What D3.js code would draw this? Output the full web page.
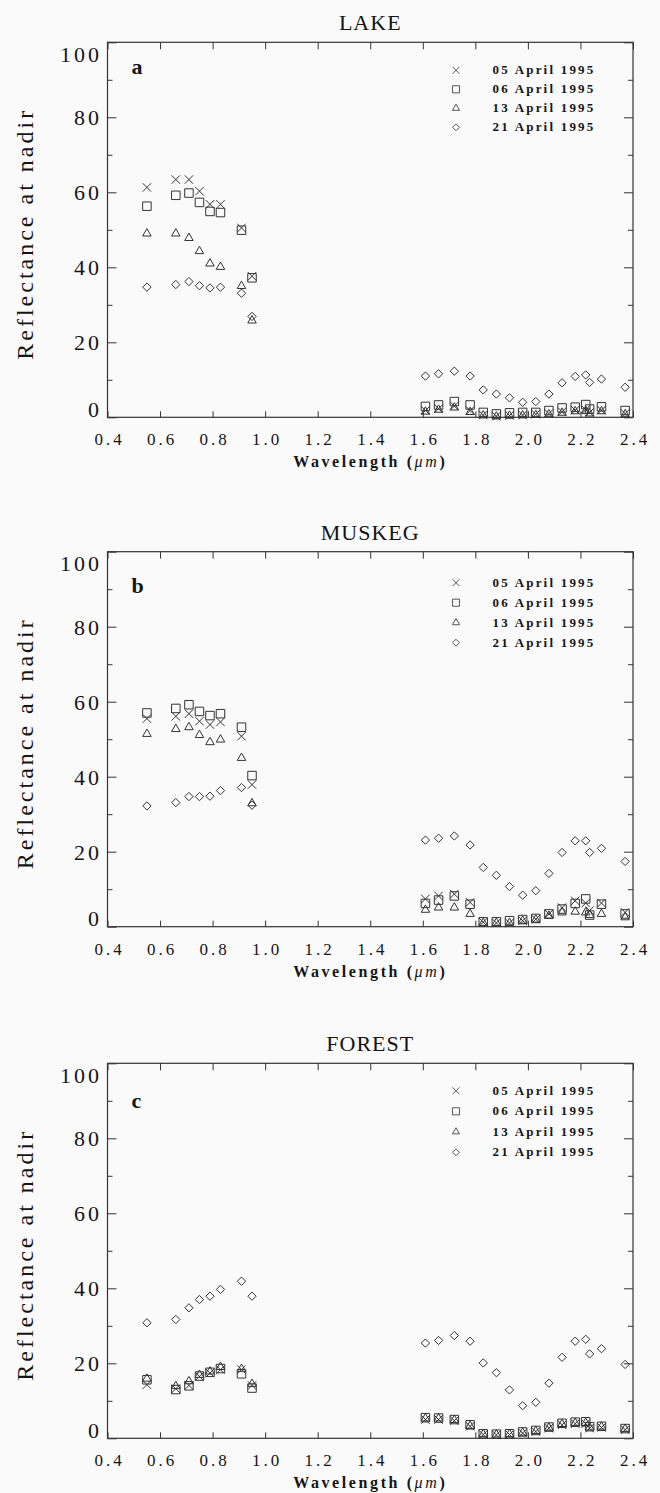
<!DOCTYPE html>
<html>
<head>
<meta charset="utf-8">
<script src="https://cdn.jsdelivr.net/npm/d3@7/dist/d3.min.js"></script>
<style>
  body { margin: 0; background: #fafafa; }
  svg text { font-family: "Liberation Serif", "Times New Roman", serif; fill: #151515; }
  .tick line { stroke: #333; stroke-width: 1; }
</style>
</head>
<body>
<div id="chart"></div>
<script>
// band centres (micrometres)
var wavelengths = [0.55, 0.66, 0.71, 0.75, 0.79, 0.83, 0.91, 0.95,
  1.61, 1.66, 1.72, 1.78, 1.83, 1.88, 1.93, 1.98, 2.03, 2.08, 2.13, 2.18, 2.22, 2.235, 2.28, 2.37];

var dates = ["05 April 1995", "06 April 1995", "13 April 1995", "21 April 1995"];
var panelNames = ["LAKE", "MUSKEG", "FOREST"];
var panelLetters = ["a", "b", "c"];
var xTicks = [0.4, 0.6, 0.8, 1.0, 1.2, 1.4, 1.6, 1.8, 2.0, 2.2, 2.4];
var yTicks = [0, 20, 40, 60, 80, 100];
var yMinor = [10, 30, 50, 70, 90];

// LAKE
var lake05 = [61.3, 63.4, 63.4, 60.3, 56.8, 56.8, 50.5, 37.6, 1.8, 2.3, 3.0, 1.8, 0.6, 0.3, 0.5, 0.6, 0.8, 1.0, 1.5, 1.9, 2.0, 1.3, 1.9, 1.0];
var lake06 = [56.3, 59.2, 59.8, 57.3, 54.9, 54.6, 49.9, 37.2, 2.9, 3.3, 4.2, 3.3, 1.3, 0.9, 1.2, 1.3, 1.3, 1.8, 2.5, 2.7, 3.4, 2.2, 2.8, 1.8];
var lake13 = [49.0, 49.0, 47.8, 44.3, 41.0, 40.1, 35.0, 25.8, 1.5, 2.0, 2.6, 1.4, 0.5, 0.2, 0.4, 0.5, 0.6, 0.8, 1.2, 1.6, 1.7, 1.0, 1.6, 0.8];
var lake21 = [34.7, 35.4, 36.2, 35.1, 34.5, 34.7, 33.1, 26.9, 11.0, 11.6, 12.3, 11.0, 7.3, 6.2, 5.2, 4.0, 4.2, 6.2, 9.2, 10.9, 11.3, 9.3, 10.2, 8.0];

// MUSKEG
var muskeg05 = [55.5, 56.1, 56.8, 54.8, 53.9, 54.6, 50.8, 37.9, 7.4, 8.2, 8.7, 6.5, 1.2, 1.0, 1.0, 1.6, 2.0, 3.4, 5.1, 6.9, 6.3, 4.3, 6.3, 3.8];
var muskeg06 = [57.0, 58.2, 59.2, 57.4, 56.3, 56.8, 53.2, 40.3, 6.2, 7.1, 8.2, 6.0, 1.3, 1.3, 1.6, 1.9, 2.2, 3.4, 4.7, 6.2, 7.4, 3.1, 6.0, 3.4];
var muskeg13 = [51.4, 52.7, 53.2, 51.1, 49.2, 49.9, 45.0, 32.9, 4.5, 5.1, 5.1, 3.4, 1.0, 1.0, 1.0, 1.6, 1.9, 2.9, 3.8, 4.0, 3.8, 3.1, 3.4, 2.5];
var muskeg21 = [32.2, 33.1, 34.7, 34.7, 34.8, 36.3, 37.1, 32.4, 23.1, 23.6, 24.2, 21.8, 15.8, 13.7, 10.7, 8.4, 9.6, 14.2, 19.8, 22.9, 22.9, 19.8, 20.9, 17.4];

// FOREST
var forest05 = [14.3, 13.2, 14.1, 16.5, 17.4, 18.3, 18.3, 14.1, 5.0, 5.0, 4.7, 3.2, 1.0, 0.9, 1.0, 1.4, 1.8, 2.7, 3.6, 3.9, 3.9, 2.7, 2.9, 2.3];
var forest06 = [15.6, 13.0, 14.0, 16.6, 17.6, 18.6, 17.2, 13.4, 5.5, 5.4, 5.0, 3.6, 1.2, 1.1, 1.2, 1.7, 2.1, 3.0, 4.0, 4.3, 4.4, 3.1, 3.2, 2.6];
var forest13 = [15.9, 13.9, 15.2, 16.9, 17.8, 19.0, 18.5, 14.5, 5.3, 5.3, 4.9, 3.3, 1.1, 1.0, 1.1, 1.5, 1.9, 2.8, 3.8, 4.1, 4.1, 2.9, 3.1, 2.5];
var forest21 = [30.8, 31.7, 34.8, 37.0, 37.9, 39.7, 41.9, 37.9, 25.4, 26.1, 27.4, 25.9, 20.1, 17.5, 12.9, 8.7, 9.6, 14.7, 21.6, 25.9, 26.4, 22.5, 23.9, 19.7];

var panelSeries = [
  [lake05, lake06, lake13, lake21],
  [muskeg05, muskeg06, muskeg13, muskeg21],
  [forest05, forest06, forest13, forest21]
];

// layout
var W = 660, H = 1493;
var left = 107.5, right = 633, plotH = 375;
var panelTop = [42.3, 551.7, 1063.3];
var letterDy = [32, 41, 45];
var legendTop = [28, 31, 27.5], legendStep = [19, 20, 20.5];
var ink = "#333";

var symbols = [d3.symbolTimes, d3.symbolSquare2, d3.symbolTriangle2, d3.symbolDiamond2];
var symSize = [48, 92, 52, 44];

var x = d3.scaleLinear().domain([0.4, 2.4]).range([0, right - left]);
var y = d3.scaleLinear().domain([0, 100]).range([plotH, 0]);

var svg = d3.select("#chart").append("svg")
  .attr("width", W)
  .attr("height", H);

panelNames.forEach(function(name, p) {
  var g = svg.append("g")
    .attr("transform", "translate(" + left + "," + panelTop[p] + ")");

  // title
  g.append("text")
    .attr("x", (right - left) / 2)
    .attr("y", -12)
    .attr("text-anchor", "middle")
    .attr("font-size", 22)
    .attr("letter-spacing", 1)
    .text(name);

  // axes, ticks pointing inward
  var gyl = g.append("g").call(d3.axisLeft(y).tickValues(yTicks).tickSize(-9).tickPadding(8.5));
  gyl.selectAll("text")
    .attr("font-size", 22)
    .attr("letter-spacing", 3)
    .attr("dx", 3)
    .attr("dy", function(d) { return d === 0 ? "-0.05em" : d === 100 ? "0.85em" : "0.34em"; });
  g.append("g").call(d3.axisLeft(y).tickValues(yMinor).tickSize(-5).tickFormat(""));
  g.append("g").attr("transform", "translate(" + (right - left) + ",0)")
    .call(d3.axisRight(y).tickValues(yTicks).tickSize(-9).tickFormat(""));
  g.append("g").attr("transform", "translate(" + (right - left) + ",0)")
    .call(d3.axisRight(y).tickValues(yMinor).tickSize(-5).tickFormat(""));

  var gxb = g.append("g").attr("transform", "translate(0," + plotH + ")")
    .call(d3.axisBottom(x).tickValues(xTicks).tickSize(-6).tickFormat(d3.format(".1f")));
  gxb.selectAll("text")
    .attr("font-size", 17)
    .attr("letter-spacing", 3)
    .attr("dx", 1.5)
    .attr("y", 28)
    .attr("dy", 0);
  g.append("g").call(d3.axisTop(x).tickValues(xTicks).tickSize(-7).tickFormat(""));

  g.selectAll(".domain").remove();
  g.selectAll(".tick line").attr("stroke", ink);

  g.append("rect")
    .attr("width", right - left)
    .attr("height", plotH)
    .attr("fill", "none")
    .attr("stroke", ink)
    .attr("stroke-width", 1.2);

  // axis labels
  g.append("text")
    .attr("transform", "translate(" + (33 - left) + "," + (plotH / 2 + 4) + ") rotate(-90)")
    .attr("text-anchor", "middle")
    .attr("font-size", 24)
    .attr("letter-spacing", 3)
    .text("Reflectance at nadir");

  var xl = g.append("text")
    .attr("x", (right - left) / 2)
    .attr("y", plotH + 50)
    .attr("text-anchor", "middle")
    .attr("font-size", 16)
    .attr("font-weight", "bold")
    .attr("letter-spacing", 2.6);
  xl.append("tspan").text("Wavelength (");
  xl.append("tspan").attr("font-style", "italic").attr("font-weight", "normal").text("\u03bcm");
  xl.append("tspan").text(")");

  // panel letter
  g.append("text")
    .attr("x", 24)
    .attr("y", letterDy[p])
    .attr("font-size", 22)
    .attr("font-weight", "bold")
    .text(panelLetters[p]);

  // points
  panelSeries[p].forEach(function(vals, s) {
    var sym = d3.symbol().type(symbols[s]).size(symSize[s]);
    g.append("g")
      .selectAll("path")
      .data(vals)
      .enter().append("path")
      .attr("transform", function(d, i) { return "translate(" + x(wavelengths[i]) + "," + y(d) + ")"; })
      .attr("d", sym)
      .attr("fill", "none")
      .attr("stroke", ink)
      .attr("stroke-width", 1);
  });

  // legend
  var lg = g.append("g").attr("transform", "translate(" + (456 - left) + "," + legendTop[p] + ")");
  dates.forEach(function(dt, s) {
    lg.append("path")
      .attr("transform", "translate(0," + (s * legendStep[p]) + ")")
      .attr("d", d3.symbol().type(symbols[s]).size(symSize[s] * 0.7))
      .attr("fill", "none")
      .attr("stroke", "#444")
      .attr("stroke-width", 0.9);
    lg.append("text")
      .attr("x", 36.5)
      .attr("y", s * legendStep[p] + 4)
      .attr("font-size", 13)
      .attr("font-weight", "bold")
      .attr("letter-spacing", 2.2)
      .text(dt);
  });
});
</script>
</body>
</html>
